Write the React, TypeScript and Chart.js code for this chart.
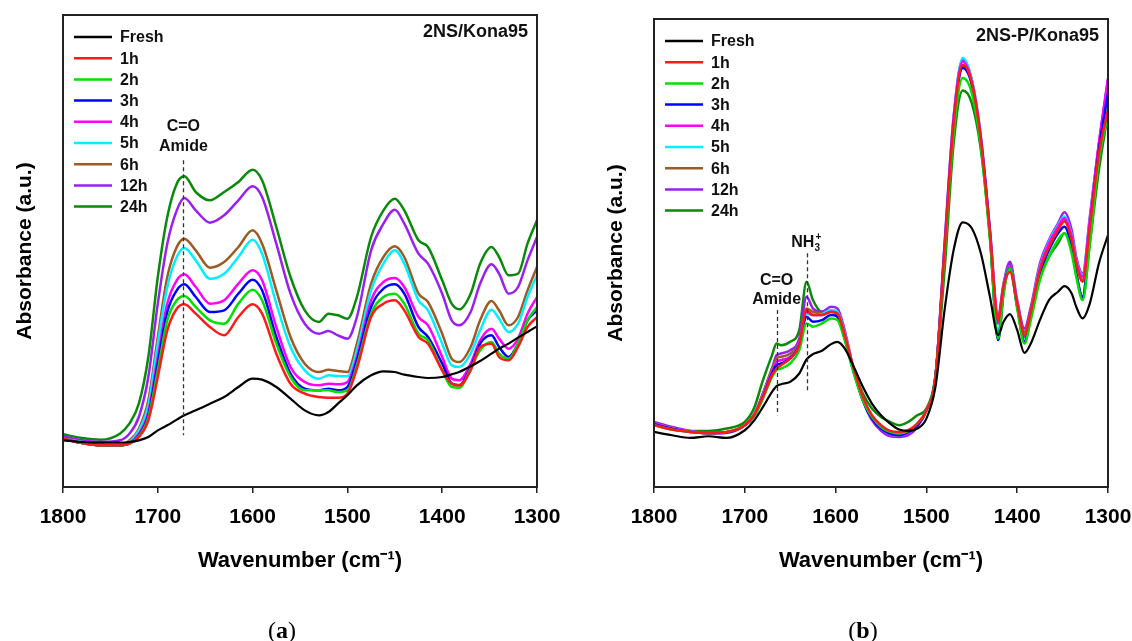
import React, { useEffect, useRef } from "react";
import { Chart, registerables } from "chart.js";

Chart.register(...registerables);

const FONT = "'Liberation Sans', Arial, Helvetica, sans-serif";

const seriesLabels = ["Fresh", "1h", "2h", "3h", "4h", "5h", "6h", "12h", "24h"];
const seriesColors = ["#000000", "#ff1a1a", "#00e000", "#0000ff", "#ff00ff", "#00f0ff", "#9c5a24", "#9b1ff0", "#0a8a0a"];

// ---------- Panel (a): 2NS/Kona95 ----------
const wavenumbersA = [1800, 1780, 1760, 1740, 1730, 1720, 1710, 1700, 1690, 1680, 1672, 1660, 1645, 1630, 1615, 1600, 1590, 1575, 1560, 1545, 1530, 1520, 1510, 1500, 1490, 1475, 1462, 1450, 1440, 1425, 1415, 1400, 1390, 1382, 1370, 1360, 1348, 1340, 1330, 1320, 1310, 1300];
const freshA = [140, 135, 133, 133, 135, 140, 150, 170, 185, 202, 215, 230, 250, 270, 300, 325, 322, 300, 265, 230, 215, 225, 250, 275, 305, 335, 347, 345, 337, 330, 327, 330, 338, 345, 362, 378, 400, 415, 430, 448, 465, 482];
const h1A = [145, 132, 125, 125, 130, 150, 200, 330, 470, 535, 548, 520, 480, 455, 510, 548, 520, 400, 310, 280, 270, 268, 268, 280, 355, 510, 550, 560, 530, 450, 430, 350, 310, 305, 350, 420, 430, 390, 380, 420, 480, 510];
const h2A = [145, 132, 125, 125, 130, 152, 208, 350, 500, 560, 573, 540, 500, 490, 550, 592, 560, 430, 330, 290, 290, 290, 285, 290, 365, 520, 570, 580, 550, 460, 440, 350, 300, 298, 355, 410, 435, 400, 385, 430, 500, 540];
const h3A = [145, 132, 125, 125, 130, 155, 215, 370, 525, 590, 608, 570, 525, 530, 580, 622, 590, 450, 340, 295, 290, 295, 290, 300, 380, 540, 595, 608, 580, 480, 450, 370, 310, 305, 360, 430, 455, 420, 390, 430, 500, 530];
const h4A = [145, 132, 125, 125, 132, 160, 225, 390, 550, 620, 638, 600, 550, 560, 610, 650, 620, 480, 360, 315, 305, 310, 308, 315, 390, 560, 615, 627, 600, 510, 485, 390, 325, 320, 370, 440, 475, 445, 415, 445, 520, 570];
const h5A = [145, 135, 127, 125, 135, 170, 245, 430, 600, 690, 717, 680, 625, 640, 690, 742, 700, 550, 420, 350, 325, 335, 333, 332, 410, 590, 670, 710, 670, 560, 530, 430, 365, 360, 400, 470, 532, 505, 465, 490, 570, 635];
const h6A = [145, 135, 125, 125, 140, 175, 260, 450, 630, 720, 745, 710, 658, 675, 720, 770, 730, 590, 450, 370, 345, 352, 348, 345, 430, 610, 690, 722, 690, 580, 555, 460, 385, 375, 420, 500, 558, 530, 485, 510, 590, 660];
const h12A = [152, 140, 135, 140, 160, 210, 330, 550, 730, 830, 867, 830, 793, 815, 860, 902, 870, 730, 580, 490, 460, 468, 455, 445, 510, 710, 790, 832, 790, 700, 670, 580, 500, 485, 525, 610, 668, 640, 580, 600, 680, 750];
const h24A = [158, 147, 142, 160, 190, 250, 390, 630, 810, 910, 932, 885, 860, 885, 915, 952, 920, 780, 630, 530, 495, 520, 515, 505, 570, 750, 830, 865, 830, 740, 720, 620, 550, 533, 580, 670, 720, 690, 635, 640, 730, 800];

// ---------- Panel (b): 2NS-P/Kona95 ----------
const wavenumbersB = [1800, 1780, 1760, 1740, 1720, 1700, 1690, 1680, 1670, 1665, 1660, 1650, 1640, 1632, 1625, 1615, 1605, 1598, 1590, 1580, 1570, 1560, 1550, 1540, 1530, 1520, 1510, 1500, 1490, 1480, 1470, 1460, 1450, 1440, 1430, 1421, 1415, 1408, 1400, 1392, 1385, 1375, 1365, 1355, 1348, 1340, 1335, 1328, 1320, 1310, 1300];
const freshB = [165, 155, 147, 152, 147, 170, 198, 240, 285, 302, 308, 315, 340, 382, 398, 408, 428, 435, 415, 360, 300, 250, 215, 190, 172, 168, 175, 205, 300, 530, 710, 793, 775, 700, 570, 455, 495, 518, 470, 402, 430, 500, 560, 585, 602, 580, 540, 505, 550, 670, 755];
const h1B = [185, 172, 165, 162, 165, 185, 215, 270, 335, 355, 365, 385, 425, 530, 515, 515, 525, 520, 455, 355, 270, 215, 185, 168, 165, 170, 190, 230, 330, 710, 1090, 1265, 1210, 1040, 760, 500, 600, 645, 550, 455, 525, 650, 720, 770, 795, 740, 670, 615, 780, 1000, 1130];
const h2B = [185, 172, 165, 162, 165, 185, 210, 265, 330, 350, 355, 370, 410, 490, 480, 490, 505, 500, 440, 340, 260, 210, 180, 165, 160, 168, 190, 230, 330, 690, 1060, 1225, 1180, 1020, 740, 445, 580, 655, 535, 430, 500, 620, 690, 740, 760, 700, 630, 560, 730, 980, 1115];
const h3B = [188, 174, 165, 162, 164, 185, 210, 270, 340, 365, 370, 385, 425, 510, 495, 500, 515, 510, 445, 345, 260, 205, 175, 160, 155, 165, 185, 230, 330, 705, 1085, 1255, 1205, 1035, 755, 440, 590, 655, 540, 435, 510, 640, 710, 760, 780, 720, 640, 570, 770, 1010, 1180];
const h4B = [190, 175, 166, 162, 164, 185, 215, 275, 345, 375, 380, 390, 430, 525, 515, 515, 525, 520, 455, 350, 265, 205, 175, 158, 154, 162, 185, 230, 330, 720, 1105, 1275, 1215, 1045, 765, 490, 600, 660, 550, 450, 525, 655, 730, 780, 805, 750, 675, 630, 800, 1030, 1220];
const h5B = [190, 175, 166, 162, 164, 185, 215, 275, 345, 375, 380, 390, 430, 520, 515, 518, 530, 525, 460, 350, 265, 205, 175, 158, 154, 162, 185, 230, 330, 720, 1105, 1285, 1220, 1048, 768, 460, 600, 660, 550, 445, 525, 660, 735, 785, 810, 755, 680, 635, 805, 1020, 1170];
const h6B = [190, 175, 166, 162, 164, 185, 215, 280, 355, 385, 390, 400, 435, 535, 525, 520, 525, 522, 458, 352, 268, 210, 180, 162, 158, 165, 188, 230, 330, 715, 1100, 1260, 1210, 1040, 765, 500, 605, 660, 550, 465, 530, 655, 725, 775, 800, 745, 670, 620, 790, 1020, 1140];
const h12B = [195, 180, 168, 160, 162, 185, 215, 280, 355, 395, 400, 410, 445, 570, 535, 525, 540, 535, 470, 350, 260, 200, 168, 152, 150, 155, 180, 230, 330, 730, 1110, 1280, 1220, 1050, 770, 515, 610, 675, 560, 475, 540, 670, 740, 790, 823, 770, 690, 640, 810, 1030, 1225];
const h24B = [190, 175, 168, 168, 175, 195, 235, 320, 395, 430, 425, 435, 470, 615, 560, 525, 525, 515, 450, 350, 280, 235, 210, 195, 185, 195, 215, 235, 335, 650, 1030, 1188, 1150, 1010, 750, 440, 580, 668, 540, 455, 510, 630, 690, 730, 760, 710, 640, 565, 730, 950, 1120];

const xTicks = [1800, 1700, 1600, 1500, 1400, 1300];

type Marker = { wn: number; top: number; bottom: number };
type Label = { wn: number; y: number; text: string; nh3?: boolean };

const panelDecor = {
  id: "panelDecor",
  afterDatasetsDraw(chart: any, _args: any, opts: any) {
    const { ctx, chartArea: ca, scales } = chart;
    const xs = scales.x;
    const ys = scales.y;
    ctx.save();
    // dashed markers
    ctx.strokeStyle = "#333";
    ctx.lineWidth = 1.3;
    ctx.setLineDash([4, 3]);
    (opts.markers as Marker[]).forEach((m) => {
      const px = Math.round(xs.getPixelForValue(m.wn)) + 0.5;
      ctx.beginPath();
      ctx.moveTo(px, ys.getPixelForValue(m.top));
      ctx.lineTo(px, ys.getPixelForValue(m.bottom));
      ctx.stroke();
    });
    ctx.setLineDash([]);
    // annotation texts
    ctx.fillStyle = "#111";
    ctx.textBaseline = "middle";
    (opts.labels as Label[]).forEach((l) => {
      const px = xs.getPixelForValue(l.wn);
      const py = ys.getPixelForValue(l.y);
      if (l.nh3) {
        ctx.font = `bold 16px ${FONT}`;
        const w1 = ctx.measureText("NH").width;
        ctx.font = `bold 10px ${FONT}`;
        const w2 = ctx.measureText("3").width;
        const start = px - (w1 + w2) / 2;
        ctx.textAlign = "left";
        ctx.font = `bold 16px ${FONT}`;
        ctx.fillText("NH", start, py);
        ctx.font = `bold 10px ${FONT}`;
        ctx.fillText("3", start + w1, py + 6);
        ctx.fillText("+", start + w1 + 1, py - 5);
      } else {
        ctx.font = `bold 16px ${FONT}`;
        ctx.textAlign = "center";
        ctx.fillText(l.text, px, py);
      }
    });
    // frame
    ctx.strokeStyle = "#222";
    ctx.lineWidth = 2;
    ctx.strokeRect(ca.left, ca.top, ca.right - ca.left, ca.bottom - ca.top);
    // legend
    ctx.font = `bold 16px ${FONT}`;
    ctx.textAlign = "left";
    ctx.textBaseline = "middle";
    chart.data.datasets.forEach((ds: any, i: number) => {
      const y = ca.top + 22 + i * 21.2;
      ctx.strokeStyle = ds.borderColor;
      ctx.lineWidth = 2.5;
      ctx.beginPath();
      ctx.moveTo(ca.left + 11, y);
      ctx.lineTo(ca.left + 49, y);
      ctx.stroke();
      ctx.fillStyle = "#111";
      ctx.fillText(ds.label, ca.left + 57, y + 1);
    });
    // panel title
    ctx.font = `bold 18px ${FONT}`;
    ctx.textAlign = "right";
    ctx.fillText(opts.title, ca.right - 9, ca.top + 17);
    ctx.restore();
  },
};

function makeConfig(p: {
  wavenumbers: number[];
  series: number[][];
  yMax: number;
  padTop: number;
  padRight: number;
  yWidth: number;
  yTitlePad: number;
  title: string;
  markers: Marker[];
  labels: Label[];
}) {
  return {
    type: "line" as const,
    data: {
      datasets: p.series.map((vals, i) => ({
        label: seriesLabels[i],
        data: p.wavenumbers.map((w, j) => ({ x: w, y: vals[j] })),
        borderColor: seriesColors[i],
        backgroundColor: seriesColors[i],
        borderWidth: i === 0 ? 2.2 : 2.5,
        pointRadius: 0,
        fill: false,
        cubicInterpolationMode: "monotone" as const,
      })),
    },
    options: {
      animation: false as const,
      responsive: false,
      maintainAspectRatio: false,
      layout: { padding: { left: 0, top: p.padTop, right: p.padRight, bottom: 0 } },
      plugins: {
        legend: { display: false },
        tooltip: { enabled: false },
        panelDecor: { title: p.title, markers: p.markers, labels: p.labels },
      },
      scales: {
        x: {
          type: "linear" as const,
          reverse: true,
          min: 1300,
          max: 1800,
          afterBuildTicks: (s: any) => {
            s.ticks = xTicks.map((v) => ({ value: v }));
          },
          ticks: {
            color: "#000",
            font: { family: FONT, size: 21, weight: "bold" as const },
            padding: 12,
            maxRotation: 0,
            autoSkip: false,
            callback: (v: any) => String(v),
          },
          grid: { display: true, drawOnChartArea: false, drawTicks: true, tickLength: 6, color: "#222", lineWidth: 1.5 },
          border: { display: false },
          title: {
            display: true,
            text: "Wavenumber (cm⁻¹)",
            color: "#000",
            font: { family: FONT, size: 22, weight: "bold" as const },
            padding: { top: 0, bottom: 67 },
          },
          afterFit: (s: any) => {
            s.height = 154;
            s.paddingLeft = 0;
            s.paddingRight = 0;
          },
        },
        y: {
          min: 0,
          max: p.yMax,
          ticks: { display: false },
          grid: { display: false },
          border: { display: false },
          title: {
            display: true,
            text: "Absorbance (a.u.)",
            color: "#000",
            font: { family: FONT, size: 21, weight: "bold" as const },
            padding: { top: p.yTitlePad, bottom: 0 },
          },
          afterFit: (s: any) => {
            s.width = p.yWidth;
            s.paddingTop = 0;
            s.paddingBottom = 0;
          },
        },
      },
    },
    plugins: [panelDecor],
  };
}

function Panel(props: { cfg: any; left: number }) {
  const ref = useRef<HTMLCanvasElement | null>(null);
  useEffect(() => {
    if (!ref.current) return;
    const chart = new Chart(ref.current, props.cfg);
    return () => chart.destroy();
  }, []);
  return (
    <canvas
      ref={ref}
      width={566}
      height={641}
      style={{ position: "absolute", left: props.left, top: 0, width: 566, height: 641 }}
    />
  );
}

export default function App() {
  const cfgA = makeConfig({
    wavenumbers: wavenumbersA,
    series: [freshA, h1A, h2A, h3A, h4A, h5A, h6A, h12A, h24A],
    yMax: 1416,
    padTop: 15,
    padRight: 29,
    yWidth: 63,
    yTitlePad: 13,
    title: "2NS/Kona95",
    markers: [{ wn: 1673, top: 980, bottom: 155 }],
    labels: [
      { wn: 1673, y: 1082, text: "C=O" },
      { wn: 1673, y: 1022, text: "Amide" },
    ],
  });
  const cfgB = makeConfig({
    wavenumbers: wavenumbersB,
    series: [freshB, h1B, h2B, h3B, h4B, h5B, h6B, h12B, h24B],
    yMax: 1402,
    padTop: 19,
    padRight: 24,
    yWidth: 88,
    yTitlePad: 38,
    title: "2NS-P/Kona95",
    markers: [
      { wn: 1665, top: 530, bottom: 215 },
      { wn: 1632, top: 700, bottom: 285 },
    ],
    labels: [
      { wn: 1665, y: 618, text: "C=O" },
      { wn: 1665, y: 560, text: "Amide" },
      { wn: 1633, y: 733, text: "NH3+", nh3: true },
    ],
  });
  const capStyle: React.CSSProperties = {
    position: "absolute",
    top: 615,
    width: 100,
    textAlign: "center",
    fontFamily: "'Liberation Serif', 'DejaVu Serif', serif",
    fontSize: 24,
    lineHeight: "30px",
    color: "#000",
  };
  return (
    <div style={{ position: "absolute", left: 0, top: 0, width: 1132, height: 641, background: "#fff", overflow: "hidden" }}>
      <Panel cfg={cfgA} left={0} />
      <Panel cfg={cfgB} left={566} />
      <div style={{ ...capStyle, left: 232 }}>
        (<b>a</b>)
      </div>
      <div style={{ ...capStyle, left: 813 }}>
        (<b>b</b>)
      </div>
    </div>
  );
}
